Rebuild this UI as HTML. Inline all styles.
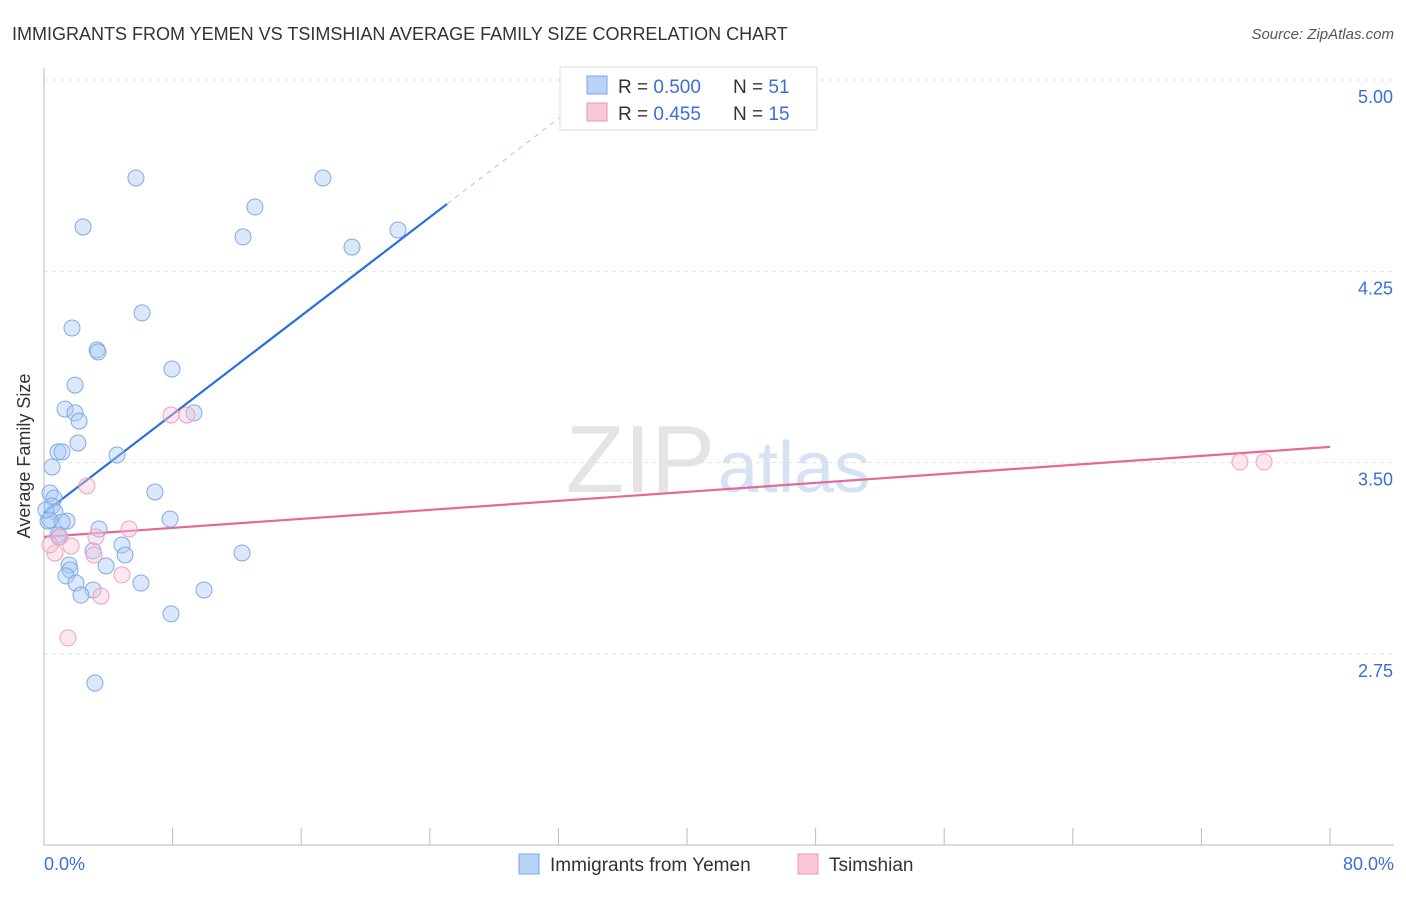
<!DOCTYPE html>
<html><head><meta charset="utf-8"><style>
body{margin:0;background:#fff;font-family:"Liberation Sans",sans-serif;}
svg text{font-family:"Liberation Sans",sans-serif;}
</style></head><body>
<svg id="chart" width="1406" height="892">
<text x="12" y="40" font-size="18" fill="#333">IMMIGRANTS FROM YEMEN VS TSIMSHIAN AVERAGE FAMILY SIZE CORRELATION CHART</text>
<text x="1394" y="39" font-size="15" fill="#555" text-anchor="end" font-style="italic">Source: ZipAtlas.com</text>
<text x="715" y="492" font-size="96" fill="#e4e4e4" text-anchor="end" font-family="Liberation Serif">ZIP</text>
<text x="718" y="492" font-size="72" fill="#d4e2f4">atlas</text>
<g id="grid"></g><g id="axes"></g><g id="lines"></g><g id="points"></g>
<text x="30" y="456" font-size="18" fill="#333" text-anchor="middle" transform="rotate(-90 30 456)">Average Family Size</text>
<text x="44" y="870" font-size="18" fill="#3a6fd8">0.0%</text>
<text x="1394" y="870" font-size="18" fill="#3a6fd8" text-anchor="end">80.0%</text>
<g>
<rect x="560" y="67" width="257" height="63" fill="#fff" stroke="#ddd"/>
<rect x="587" y="76" width="20" height="18" fill="#b8d3f5" stroke="#7aa6e6"/>
<text x="618" y="93" font-size="19" fill="#333">R = <tspan fill="#3a6fd8">0.500</tspan><tspan x="733">N = </tspan><tspan fill="#3a6fd8">51</tspan></text>
<rect x="587" y="103" width="20" height="18" fill="#f8c8d6" stroke="#ee97b2"/>
<text x="618" y="120" font-size="19" fill="#333">R = <tspan fill="#3a6fd8"> 0.455</tspan><tspan x="733">N = </tspan><tspan fill="#3a6fd8">15</tspan></text>
</g>
<g>
<rect x="519" y="854" width="20" height="20" fill="#b8d3f5" stroke="#7aa6e6"/>
<text x="550" y="871" font-size="19" fill="#333">Immigrants from Yemen</text>
<rect x="798" y="854" width="20" height="20" fill="#f8c8d6" stroke="#ee97b2"/>
<text x="829" y="871" font-size="19" fill="#333">Tsimshian</text>
</g>
</svg>
<script>
const yTicks=[5.00,4.25,3.50,2.75];
const yTickLabels=["5.00","4.25","3.50","2.75"];
const xTicks=[0,8,16,24,32,40,48,56,64,72,80];
const blueX=[5.72,17.35,2.43,13.12,12.38,19.16,22.02,6.10,1.74,3.30,3.36,7.96,1.93,1.31,1.93,2.18,9.33,2.11,0.87,1.12,4.54,0.50,6.90,0.37,0.62,0.50,0.68,1.43,0.25,1.12,7.84,3.42,0.93,4.85,3.05,5.04,12.32,1.56,3.86,1.62,1.37,1.99,6.03,3.05,9.95,2.30,7.90,3.17,0.37,0.12,0.87];
const blueY=[4.616,4.616,4.424,4.502,4.385,4.345,4.412,4.087,4.028,3.942,3.934,3.867,3.804,3.710,3.695,3.663,3.695,3.577,3.542,3.542,3.530,3.483,3.385,3.381,3.361,3.330,3.307,3.271,3.271,3.267,3.279,3.240,3.209,3.177,3.154,3.138,3.146,3.099,3.095,3.079,3.056,3.028,3.028,3.001,3.001,2.981,2.907,2.636,3.275,3.315,3.217];
const pinkX=[8.89,7.90,2.67,5.29,1.00,3.23,0.68,1.68,3.11,4.85,3.55,1.49,74.4,75.9,0.37];
const pinkY=[3.687,3.687,3.409,3.240,3.209,3.209,3.146,3.173,3.138,3.060,2.977,2.813,3.503,3.503,3.178];
const blueFit=[3.303,0.0483];
const pinkFit=[3.209,0.00441];
const NS="http://www.w3.org/2000/svg";
const xs=v=>44+v/80*1286, ys=v=>80+(5-v)*255.1;
function mk(tag,attrs,parent){const e=document.createElementNS(NS,tag);for(const k in attrs)e.setAttribute(k,attrs[k]);document.getElementById(parent).appendChild(e);return e;}
yTicks.forEach((t,i)=>{
 const l=mk('line',{x1:44,x2:1394,y1:ys(t),y2:ys(t),stroke:'#e2e2e2','stroke-dasharray':'4,4'},'grid');
 
 
 const tx=mk('text',{x:1393,y:ys(t)+23,'font-size':18,fill:'#3a6fd8','text-anchor':'end'},'grid');
 tx.textContent=yTickLabels[i];
 
 
});
const ax=mk('line',{x1:44,x2:1394,y1:845,y2:845,stroke:'#bbb'},'axes');


const ay=mk('line',{x1:44,x2:44,y1:68,y2:845,stroke:'#bbb'},'axes');


xTicks.forEach(t=>{const l=mk('line',{x1:xs(t),x2:xs(t),y1:828,y2:845,stroke:'#bbb'},'axes');
 
 });
const bEnd=25.07,bDash=34;
const bl=mk('line',{x1:xs(0),y1:ys(blueFit[0]),x2:xs(bEnd),y2:ys(blueFit[0]+blueFit[1]*bEnd),stroke:'#2a6fdb','stroke-width':2.2},'lines');


const bd=mk('line',{x1:xs(bEnd),y1:ys(blueFit[0]+blueFit[1]*bEnd),x2:xs(bDash),y2:ys(blueFit[0]+blueFit[1]*bDash),stroke:'#a9c4ec','stroke-width':1,'stroke-dasharray':'5,5'},'lines');


const pl=mk('line',{x1:xs(0),y1:ys(pinkFit[0]),x2:xs(80),y2:ys(pinkFit[0]+pinkFit[1]*80),stroke:'#e4689a','stroke-width':2.2},'lines');


blueX.forEach((x,i)=>{const c=mk('circle',{cx:xs(x),cy:ys(blueY[i]),r:8,fill:'rgba(170,200,242,0.42)',stroke:'#80aae6','stroke-width':1},'points');
 
 });
pinkX.forEach((x,i)=>{const c=mk('circle',{cx:xs(x),cy:ys(pinkY[i]),r:8,fill:'rgba(248,195,214,0.4)',stroke:'#f0a0ba','stroke-width':1},'points');
 
 });
</script>
</body></html>
